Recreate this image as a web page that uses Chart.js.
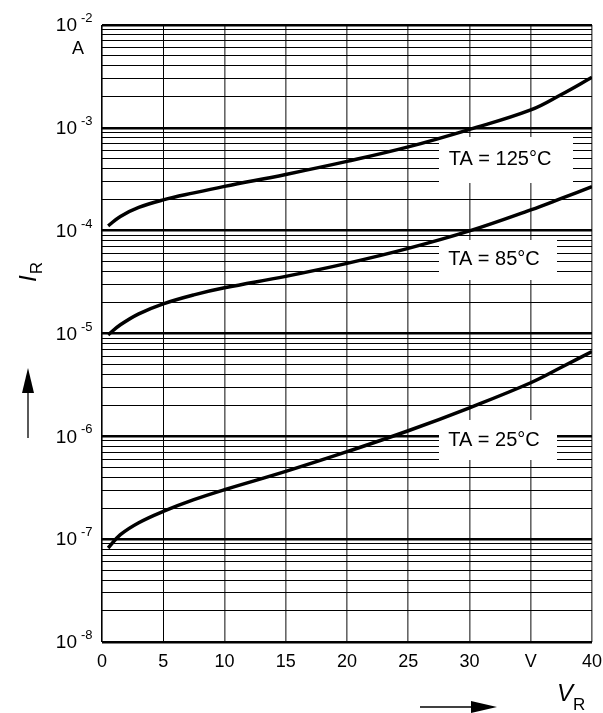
<!DOCTYPE html>
<html>
<head>
<script src="https://cdn.jsdelivr.net/npm/chart.js@4.4.1/dist/chart.umd.min.js"></script>
<style>
html, body { margin: 0; padding: 0; background: #fff; }
#wrap { width: 603px; height: 713px; position: relative; }
</style>
</head>
<body>
<div id="wrap"><canvas id="chart" width="603" height="713"></canvas></div>
<script>
// reverse voltage V_R (V) where the curves were read
var volts = [0.5, 1.5, 3, 5, 7.5, 10, 15, 20, 25, 30, 35, 37.5, 40];

// reverse current I_R (A) per junction temperature
var ir125 = [1.113e-4, 1.377e-4, 1.684e-4, 1.992e-4, 2.330e-4, 2.695e-4, 3.524e-4, 4.716e-4, 6.523e-4, 9.650e-4, 1.493e-3, 2.112e-3, 3.102e-3];
var ir85  = [9.71e-6, 1.215e-5, 1.554e-5, 1.944e-5, 2.377e-5, 2.780e-5, 3.596e-5, 4.810e-5, 6.730e-5, 9.956e-5, 1.593e-4, 2.060e-4, 2.683e-4];
var ir25  = [8.21e-8, 1.106e-7, 1.446e-7, 1.863e-7, 2.421e-7, 3.027e-7, 4.559e-7, 7.087e-7, 1.133e-6, 1.896e-6, 3.318e-6, 4.693e-6, 6.686e-6];

var curveNames = ['TA = 125°C', 'TA = 85°C', 'TA = 25°C'];

// axis ticks
var xTicks = [0, 5, 10, 15, 20, 25, 30, 35, 40];
var xTickText = ['0', '5', '10', '15', '20', '25', '30', 'V', '40'];
var decades = [-8, -7, -6, -5, -4, -3, -2];
var minorSteps = [2, 3, 4, 5, 6, 7, 8, 9];

var FONT = '"Liberation Sans", Arial, Helvetica, sans-serif';

function pts(ys) {
	return volts.map(function(v, i) { return {x: v, y: ys[i]}; });
}

var yGrid = [];
decades.forEach(function(d) {
	yGrid.push({value: Math.pow(10, d), major: true});
	if (d < -2) {
		minorSteps.forEach(function(m) {
			yGrid.push({value: m * Math.pow(10, d), major: false});
		});
	}
});

function isDecade(v) {
	var l = Math.log10(v);
	return Math.abs(l - Math.round(l)) < 1e-6;
}

// white boxes behind the curve labels (canvas px)
var labelBoxes = [
	{x: 439, y: 137, w: 134, h: 46, tx: 500, ty: 159},
	{x: 439, y: 240, w: 118, h: 40, tx: 494, ty: 259},
	{x: 439, y: 420, w: 118, h: 40, tx: 494, ty: 440}
];

var decor = {
	id: 'decor',
	beforeDatasetsDraw: function(chart) {
		var ctx = chart.ctx;
		ctx.save();
		labelBoxes.forEach(function(b, i) {
			ctx.fillStyle = '#fff';
			ctx.fillRect(b.x, b.y, b.w, b.h);
			ctx.fillStyle = '#000';
			ctx.font = '20px ' + FONT;
			ctx.textAlign = 'center';
			ctx.textBaseline = 'middle';
			ctx.fillText(curveNames[i], b.tx, b.ty);
		});
		ctx.restore();
	},
	afterDraw: function(chart) {
		var ctx = chart.ctx;
		var ys = chart.scales.y;
		ctx.save();
		ctx.fillStyle = '#000';
		ctx.strokeStyle = '#000';

		// y tick labels 10^n
		decades.forEach(function(d) {
			var py = ys.getPixelForValue(Math.pow(10, d));
			ctx.font = '19px ' + FONT;
			ctx.textAlign = 'right';
			ctx.textBaseline = 'middle';
			ctx.fillText('10', 77, py + 1);
			ctx.font = '13px ' + FONT;
			ctx.textAlign = 'left';
			ctx.textBaseline = 'alphabetic';
			ctx.fillText(String(d), 81, py - 3);
		});
		// unit
		ctx.font = '18px ' + FONT;
		ctx.textAlign = 'center';
		ctx.textBaseline = 'middle';
		ctx.fillText('A', 78, 49);

		// y title I_R rotated
		ctx.save();
		ctx.translate(36, 282);
		ctx.rotate(-Math.PI / 2);
		ctx.textAlign = 'left';
		ctx.textBaseline = 'alphabetic';
		ctx.font = 'italic 24px ' + FONT;
		ctx.fillText('I', 0, 0);
		var w = ctx.measureText('I').width;
		ctx.font = '17px ' + FONT;
		ctx.fillText('R', w + 1, 6);
		ctx.restore();

		// up arrow
		ctx.lineWidth = 1.3;
		ctx.beginPath();
		ctx.moveTo(28, 438);
		ctx.lineTo(28, 390);
		ctx.stroke();
		ctx.beginPath();
		ctx.moveTo(28, 368);
		ctx.lineTo(22, 393);
		ctx.lineTo(34, 393);
		ctx.closePath();
		ctx.fill();

		// right arrow
		ctx.beginPath();
		ctx.moveTo(420, 707);
		ctx.lineTo(472, 707);
		ctx.stroke();
		ctx.beginPath();
		ctx.moveTo(497, 707);
		ctx.lineTo(471, 701);
		ctx.lineTo(471, 713);
		ctx.closePath();
		ctx.fill();

		// x title V_R
		ctx.textAlign = 'left';
		ctx.textBaseline = 'alphabetic';
		ctx.font = 'italic 24px ' + FONT;
		ctx.fillText('V', 557, 701);
		var vw = ctx.measureText('V').width;
		ctx.font = '17px ' + FONT;
		ctx.fillText('R', 557 + vw, 710);

		ctx.restore();
	}
};

var lineStyle = {
	borderColor: '#000',
	borderWidth: 3.5,
	pointRadius: 0,
	fill: false,
	tension: 0.4
};

new Chart(document.getElementById('chart'), {
	type: 'scatter',
	data: {
		datasets: [
			Object.assign({label: curveNames[0], data: pts(ir125), showLine: true}, lineStyle),
			Object.assign({label: curveNames[1], data: pts(ir85), showLine: true}, lineStyle),
			Object.assign({label: curveNames[2], data: pts(ir25), showLine: true}, lineStyle)
		]
	},
	options: {
		responsive: false,
		animation: false,
		devicePixelRatio: 1,
		layout: {padding: {left: 102, top: 25, right: 11, bottom: 31}},
		plugins: {legend: {display: false}, tooltip: {enabled: false}},
		scales: {
			x: {
				type: 'linear',
				min: 0,
				max: 40,
				afterBuildTicks: function(s) {
					s.ticks = xTicks.map(function(v) { return {value: v}; });
				},
				afterFit: function(s) {
					s.height = 40;
					s.paddingLeft = 0;
					s.paddingRight = 0;
				},
				border: {display: false},
				grid: {
					drawTicks: false,
					color: function(c) {
						var v = c.tick && c.tick.value;
						return (v === 0 || v === 5) ? '#000' : '#666';
					},
					lineWidth: function(c) {
						var v = c.tick && c.tick.value;
						return v === 5 ? 1 : 1.6;
					}
				},
				ticks: {
					color: '#000',
					padding: 9,
					font: {family: FONT, size: 18},
					maxRotation: 0,
					autoSkip: false,
					callback: function(v) {
						var i = xTicks.indexOf(v);
						return i >= 0 ? xTickText[i] : '';
					}
				}
			},
			y: {
				type: 'logarithmic',
				min: 1e-8,
				max: 1e-2,
				afterBuildTicks: function(s) {
					s.ticks = yGrid.map(function(g) { return {value: g.value}; });
				},
				afterFit: function(s) {
					s.width = 0;
					s.paddingTop = 0;
					s.paddingBottom = 0;
				},
				border: {display: false},
				grid: {
					drawTicks: false,
					color: '#000',
					lineWidth: function(c) {
						var v = c.tick && c.tick.value;
						return v && isDecade(v) ? 2.4 : 1.1;
					}
				},
				ticks: {display: false}
			}
		}
	},
	plugins: [decor]
});
</script>
</body>
</html>
